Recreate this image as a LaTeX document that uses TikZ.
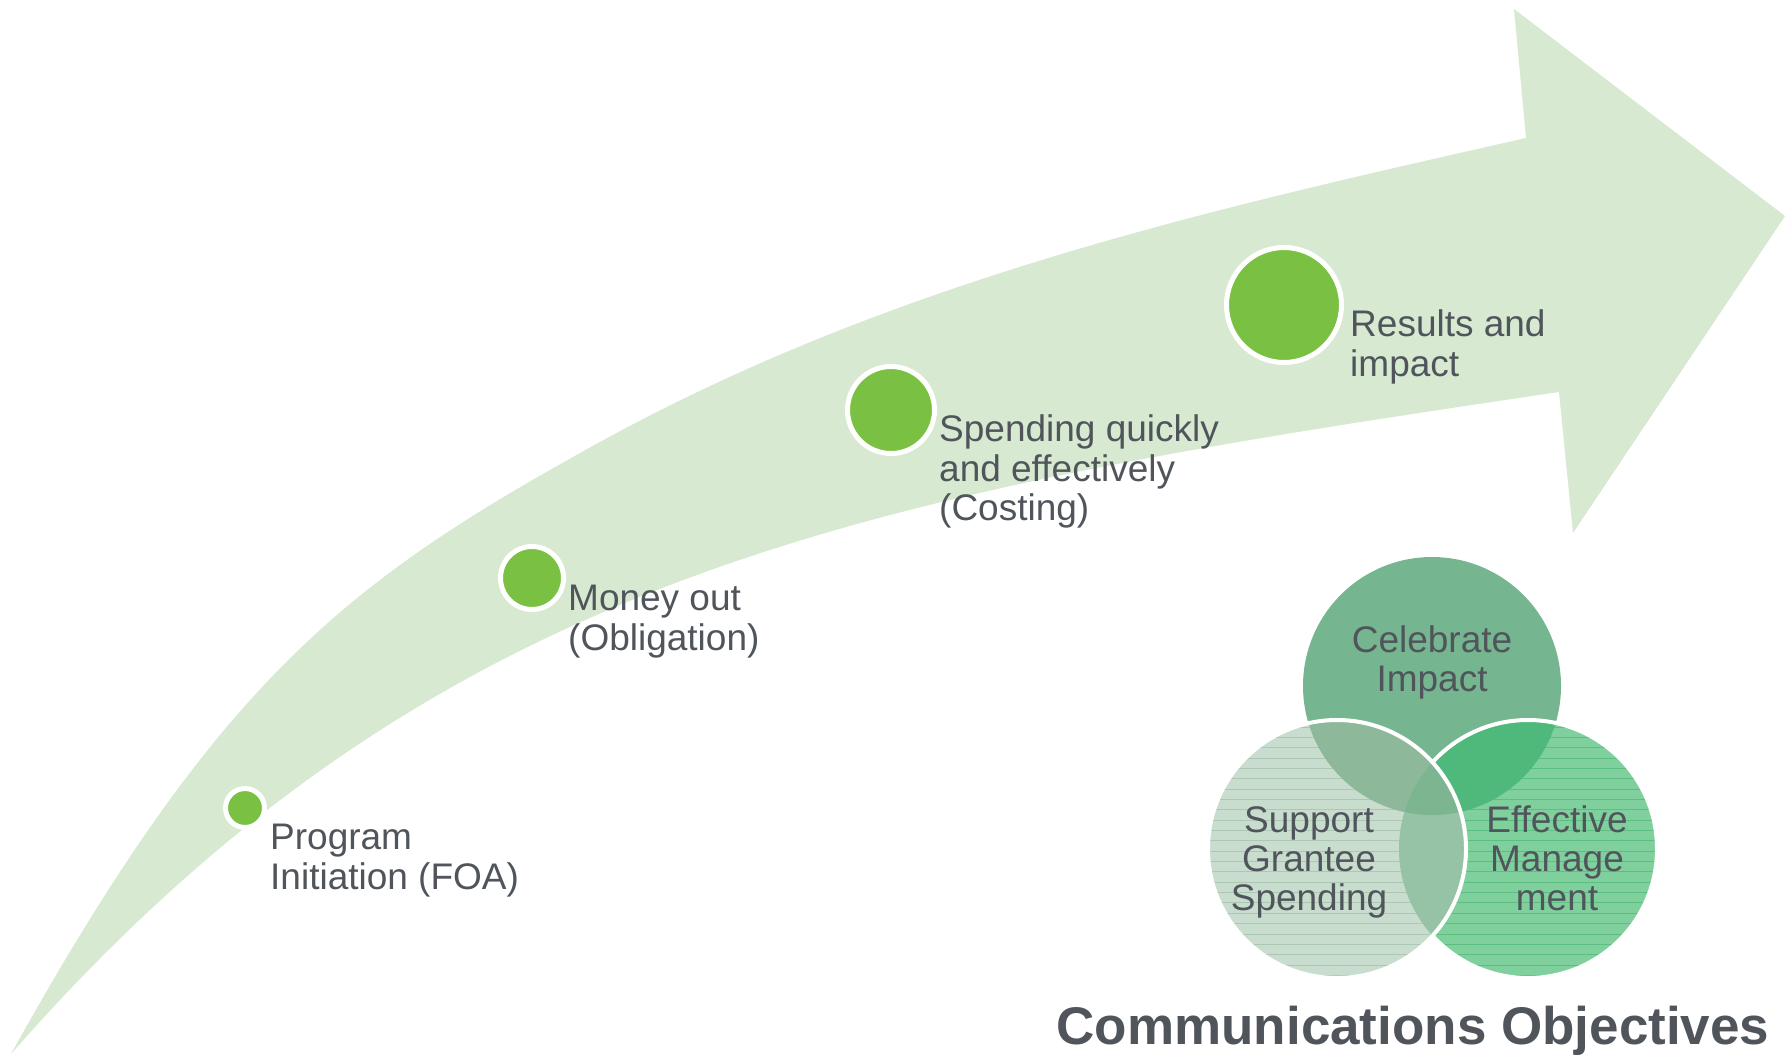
\documentclass[tikz,border=0pt]{standalone}
\usepackage{fontspec}
\setmainfont{Liberation Sans}
\definecolor{band}{RGB}{215,233,208}
\definecolor{dotg}{RGB}{122,193,67}
\definecolor{txt}{RGB}{80,85,92}
\definecolor{topc}{RGB}{117,181,143}
\definecolor{leftc}{RGB}{200,221,205}
\definecolor{rightc}{RGB}{128,208,158}
\definecolor{tlc}{RGB}{141,185,154}
\definecolor{trc}{RGB}{78,185,122}
\definecolor{lrc}{RGB}{150,195,165}
\definecolor{allc}{RGB}{126,181,145}
\definecolor{llines}{RGB}{172,200,180}
\definecolor{rlines}{RGB}{92,190,128}
\begin{document}
\begin{tikzpicture}[x=1pt,y=-1pt,
  lbl/.style={font=\fontsize{37}{39.5}\selectfont, text=txt, align=left, inner sep=0pt, anchor=north west},
  vlbl/.style={font=\fontsize{37}{39}\selectfont, text=txt, align=center, inner sep=0pt, anchor=north},
  milestone/.style={circle, fill=dotg, draw=white, line width=5pt, inner sep=0pt},
  title/.style={font=\bfseries\fontsize{53}{60}\selectfont, text=txt, inner sep=0pt, anchor=base},
  ring/.style={white, line width=4pt}
]
\useasboundingbox (0,0) rectangle (1785,1058);
% big curved arrow
\coordinate (tail) at (11,1054);
\coordinate (um) at (600,442);
\coordinate (ua) at (1526,138);
\coordinate (hb1) at (1514,9);
\coordinate (tip) at (1785,216);
\coordinate (hb2) at (1573,533);
\coordinate (la) at (1559,392);
\fill[band] (tail) .. controls (221,676) and (350,579.5) .. (um)
  .. controls (900,277) and (1226,206) .. (ua) -- (hb1) -- (tip) -- (hb2) -- (la)
  .. controls (869,494) and (437,568) .. (tail) -- cycle;
% milestones
\node[milestone, minimum size=39pt] (d1) at (245,808) {};
\node[milestone, minimum size=63pt] (d2) at (532,578) {};
\node[milestone, minimum size=87pt] (d3) at (891,410) {};
\node[milestone, minimum size=115pt] (d4) at (1284,305) {};
\node[lbl] (l1) at (270,822) {\strut Program\\Initiation (FOA)};
\node[lbl] (l2) at (568,583) {\strut Money out\\(Obligation)};
\node[lbl] (l3) at (939,414) {\strut Spending quickly\\and effectively\\(Costing)};
\node[lbl] (l4) at (1350,309) {\strut Results and\\impact};
% Venn diagram
\coordinate (T) at (1432,686);
\coordinate (L) at (1337,849);
\coordinate (R) at (1528,849);
\def\rr{129}
\fill[topc] (T) circle (\rr);
\begin{scope}
  \clip (R) circle (\rr);
  \fill[rightc] (R) circle (\rr);
  \foreach \k in {0,...,26} \draw[rlines, line width=1pt] (1390,{727+10.35*\k}) -- (1670,{727+10.35*\k});
  \fill[trc] (T) circle (\rr);
\end{scope}
\draw[ring] (R) circle (\rr);
\begin{scope}
  \clip (L) circle (\rr);
  \fill[leftc] (L) circle (\rr);
  \foreach \k in {0,...,26} \draw[llines, line width=1pt] (1200,{727+10.35*\k}) -- (1480,{727+10.35*\k});
  \fill[tlc] (T) circle (\rr);
  \fill[lrc] (R) circle (\rr);
  \clip (R) circle (\rr);
  \fill[allc] (T) circle (\rr);
\end{scope}
\draw[ring] (L) circle (\rr);
\node[vlbl] (v1) at (1432,625) {\strut Celebrate\\Impact};
\node[vlbl] (v2) at (1309,805) {\strut Support\\Grantee\\Spending};
\node[vlbl] (v3) at (1557,805) {\strut Effective\\Manage\\ment};
\node[title] (t) at (1413,1044) {Communications Objectives};
\end{tikzpicture}
\end{document}
